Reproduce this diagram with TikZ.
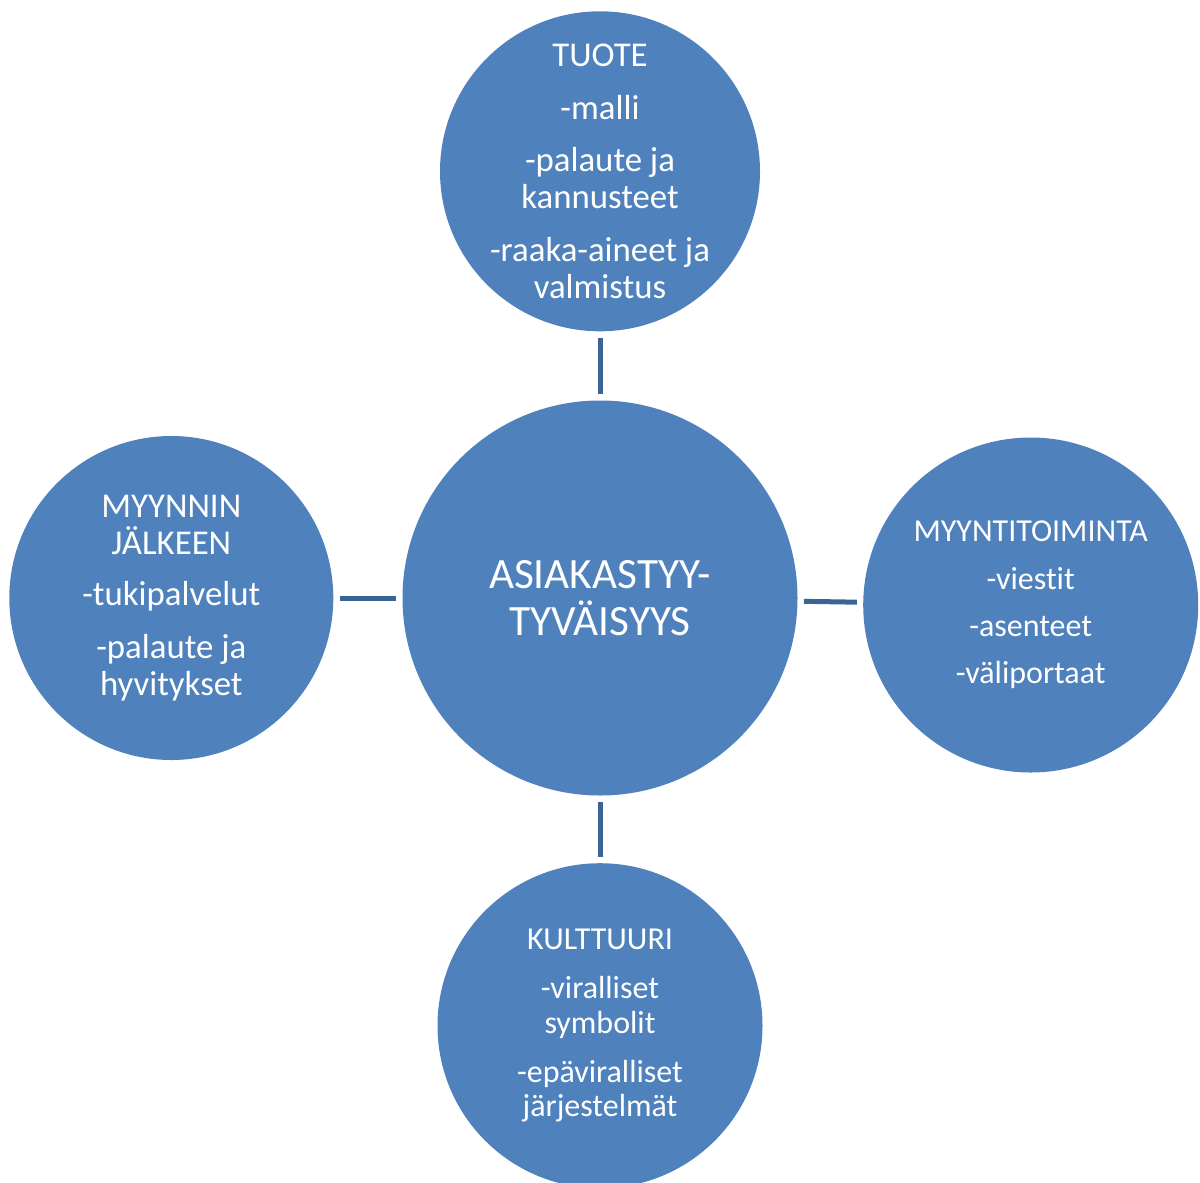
\documentclass[tikz,border=0pt]{standalone}
\usepackage{fontspec}
\setmainfont[Ligatures=NoCommon]{Carlito}
\usepackage{tikz}
\usetikzlibrary{positioning}
\definecolor{bubbleblue}{HTML}{4F81BD}
\definecolor{linkblue}{HTML}{3A6496}
\tikzstyle{bubble} = [circle, fill=bubbleblue, text=white, align=center, inner sep=-1cm, font=\fontsize{19.8pt}{21pt}\selectfont]
\tikzstyle{smallbubble} = [bubble, font=\fontsize{18.2pt}{19.5pt}\selectfont]
\tikzstyle{hub} = [bubble, minimum size=7.9cm, font=\fontsize{24.6pt}{26.7pt}\selectfont]
\tikzstyle{link} = [draw=linkblue, line width=0.1cm, shorten <=0.12cm, shorten >=0.12cm]

\begin{document}
\begin{tikzpicture}
		\useasboundingbox (0,0) rectangle (24,-23.64);
		
		% Nodes
		\node (center) [hub] at (12,-11.96) {ASIAKASTYY-\\TYVÄISYYS};
		\node (tuote) [bubble, minimum size=6.4cm, above=1.37cm of center] {TUOTE\\[9pt]-malli\\[9pt]-palaute ja\\kannusteet\\[9pt]-raaka-aineet ja\\valmistus};
		\node (jalkeen) [bubble, minimum size=6.48cm, left=1.37cm of center] {MYYNNIN\\JÄLKEEN\\[8pt]-tukipalvelut\\[9pt]-palaute ja\\hyvitykset};
		\node (myynti) [smallbubble, minimum size=6.7cm, right=1.3cm of center, yshift=-0.14cm] {MYYNTITOIMINTA\\[7.5pt]-viestit\\[7.5pt]-asenteet\\[7.5pt]-väliportaat};
		\node (kulttuuri) [smallbubble, minimum size=6.5cm, below=1.34cm of center] {KULTTUURI\\[8.5pt]-viralliset\\symbolit\\[8.5pt]-epäviralliset\\järjestelmät};
		
		% Connectors
		\draw [link] (tuote) -- (center);
		\draw [link] (jalkeen) -- (center);
		\draw [link] (center) -- (myynti);
		\draw [link] (center) -- (kulttuuri);
		
	\end{tikzpicture}
\end{document}
